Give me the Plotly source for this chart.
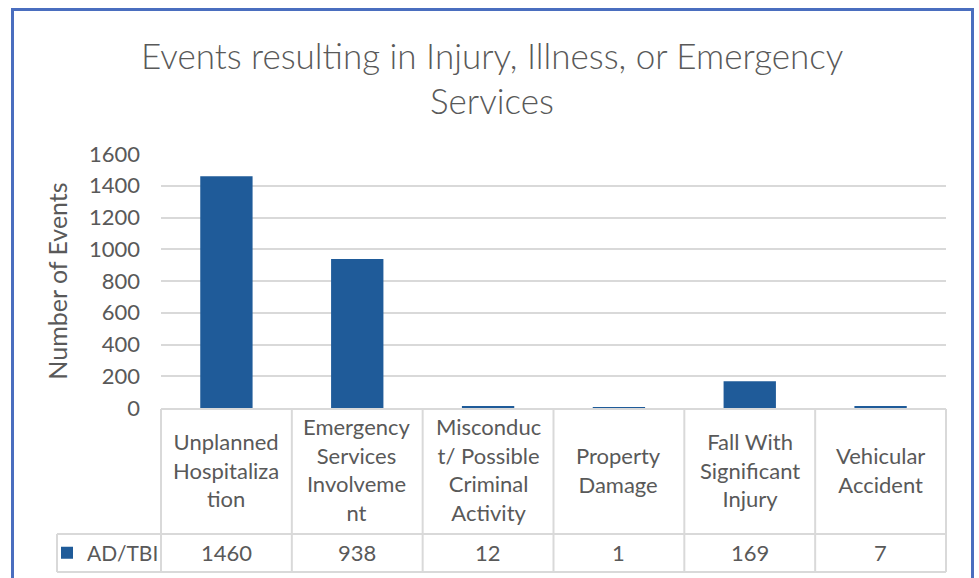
import plotly.graph_objects as go

# Data
categories = [
    "Unplanned<br>Hospitaliza<br>tion",
    "Emergency<br>Services<br>Involveme<br>nt",
    "Misconduc<br>t/ Possible<br>Criminal<br>Activity",
    "Property<br>Damage",
    "Fall With<br>Significant<br>Injury",
    "Vehicular<br>Accident",
]
series_name = "AD/TBI"
values = [1460, 938, 12, 1, 169, 7]
y_ticks = [0, 200, 400, 600, 800, 1000, 1200, 1400, 1600]

title_lines = ["Events resulting in Injury, Illness, or Emergency", "Services"]

FONT = "Lato"
TEXT = "#595959"
GRID = "#D9D9D9"
BAR = "#1F5B99"
FRAME = "#4A6EBF"

W, H = 979, 578
L, R, T, B = 161, 946, 154, 408   # plot area in pixels

def px(p):
    return (p - L) / (R - L)

def py(p):
    return (B - p) / (B - T)

n = len(categories)
xs = list(range(n))

fig = go.Figure()
fig.add_trace(go.Bar(
    x=xs, y=values, name=series_name,
    marker=dict(color=BAR, line=dict(width=0)),
    width=0.4, showlegend=True,
))

# data table under the plot
hdr_top, row_mid, row_bot, key_left = 409, 534, 572, 57
shapes = []
for i in range(n + 1):
    xb = px(L + i * (R - L) / n)
    shapes.append(dict(type="line", xref="paper", yref="paper",
                       x0=xb, x1=xb, y0=py(hdr_top), y1=py(row_bot),
                       line=dict(color=GRID, width=2)))
for yy, x0 in [(hdr_top, L), (row_mid, key_left), (row_bot, key_left)]:
    shapes.append(dict(type="line", xref="paper", yref="paper",
                       x0=px(x0), x1=px(R), y0=py(yy), y1=py(yy),
                       line=dict(color=GRID, width=2)))
shapes.append(dict(type="line", xref="paper", yref="paper",
                   x0=px(key_left), x1=px(key_left), y0=py(row_mid), y1=py(row_bot),
                   line=dict(color=GRID, width=2)))
# outer chart frame
shapes.append(dict(type="rect", xref="paper", yref="paper",
                   x0=px(12.5), x1=px(972.5), y0=py(9.5), y1=py(620),
                   line=dict(color=FRAME, width=3), fillcolor="rgba(0,0,0,0)"))

annotations = []
for i, (c, v) in enumerate(zip(categories, values)):
    annotations.append(dict(x=i, xref="x", y=py((hdr_top + row_mid) / 2 - 2), yref="paper",
                            text=c, showarrow=False, align="center",
                            yanchor="middle", font=dict(family=FONT, size=22, color=TEXT)))
    annotations.append(dict(x=i, xref="x", y=py((row_mid + row_bot) / 2 - 1), yref="paper",
                            text=str(v), showarrow=False,
                            yanchor="middle", font=dict(family=FONT, size=22, color=TEXT)))
for t, yy in zip(title_lines, [55, 100]):
    annotations.append(dict(x=px(492), xref="paper", y=py(yy), yref="paper",
                            text=t, showarrow=False, yanchor="middle",
                            font=dict(family=FONT, size=35, color=TEXT, weight=300)))

fig.update_layout(
    width=W, height=H,
    margin=dict(l=L, r=W - R, t=T, b=H - B, autoexpand=False),
    paper_bgcolor="white", plot_bgcolor="white",
    font=dict(family=FONT, color=TEXT),
    shapes=shapes, annotations=annotations,
    showlegend=True,
    legend=dict(x=px(47), y=py(553), xanchor="left", yanchor="middle",
                font=dict(family=FONT, size=21, color=TEXT),
                bgcolor="rgba(0,0,0,0)", itemwidth=30),
    bargap=0.6,
)
fig.update_xaxes(range=[-0.5, n - 0.5], showticklabels=False, showgrid=False,
                 zeroline=False, showline=False, fixedrange=True)
fig.update_yaxes(range=[0, 1600], tickvals=y_ticks, showgrid=True, gridcolor=GRID,
                 gridwidth=2, zeroline=False, showline=False, automargin=False,
                 tickfont=dict(family=FONT, size=22, color=TEXT), ticklabelstandoff=20,
                 title=dict(text="Number of Events", standoff=14,
                            font=dict(family=FONT, size=25, color=TEXT)))

# the page's default body margin would shift the chart by 8px
fig.write_html("out.html", config={"displayModeBar": False},
               post_script="document.body.style.margin='0';")
